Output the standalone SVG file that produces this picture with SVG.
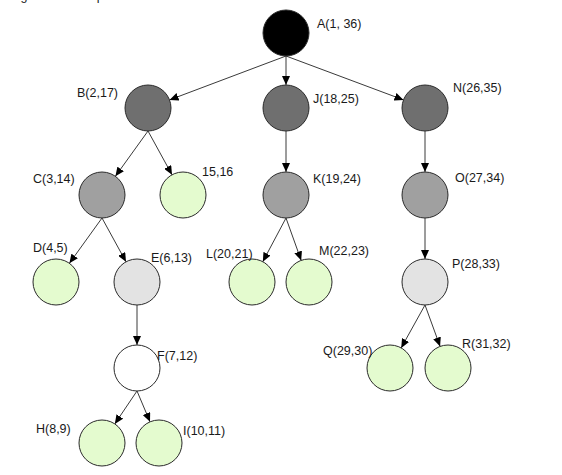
<svg xmlns="http://www.w3.org/2000/svg" width="562" height="475" viewBox="0 0 562 475">
<style>
text{font-family:"Liberation Sans",Arial,sans-serif;font-size:12.5px;fill:#1a1a1a}
.n{stroke:#2a2a2a;stroke-width:1}
.lvl0{fill:#000}
.lvl1{fill:#6f6f6f}
.lvl2{fill:#a0a0a0}
.lvl3{fill:#e3e3e3}
.leaf{fill:#e4fbcf}
.white{fill:#fff}
.e{stroke:#3a3a3a;stroke-width:1;fill:none;marker-end:url(#ah)}
</style>
<defs>
<marker id="ah" markerUnits="userSpaceOnUse" markerWidth="10" markerHeight="8" refX="9" refY="4" orient="auto">
<path d="M0,0 L9,4 L0,8 z" fill="#000"/>
</marker>
</defs>
<rect width="562" height="475" fill="#fff"/>
<text x="10" y="0">Figure 3 : example</text>
<g id="connectors">
<line class="e" x1="286" y1="56" x2="169.5" y2="99.9"/>
<line class="e" x1="286" y1="56" x2="286" y2="85"/>
<line class="e" x1="286" y1="56" x2="403.5" y2="99.9"/>
<line class="e" x1="148" y1="131" x2="115.4" y2="176.3"/>
<line class="e" x1="148" y1="131" x2="172" y2="174.8"/>
<line class="e" x1="286" y1="131" x2="286" y2="172"/>
<line class="e" x1="425" y1="131" x2="425" y2="172"/>
<line class="e" x1="102" y1="218" x2="69.4" y2="263.3"/>
<line class="e" x1="102" y1="218" x2="126" y2="261.8"/>
<line class="e" x1="286" y1="218" x2="262.8" y2="261.7"/>
<line class="e" x1="286" y1="218" x2="301.2" y2="260.4"/>
<line class="e" x1="425" y1="218" x2="425" y2="259"/>
<line class="e" x1="137" y1="305" x2="137" y2="345"/>
<line class="e" x1="425" y1="305" x2="401.2" y2="347.9"/>
<line class="e" x1="425" y1="305" x2="440.1" y2="346.4"/>
<line class="e" x1="137" y1="391" x2="114.8" y2="423.9"/>
<line class="e" x1="137" y1="391" x2="150" y2="421.8"/>
</g>
<g id="A"><circle class="n lvl0" cx="286" cy="33" r="23"/><text x="317" y="28">A(1, 36)</text></g>
<g id="B"><circle class="n lvl1" cx="148" cy="108" r="23"/><text x="77" y="97">B(2,17)</text></g>
<g id="J"><circle class="n lvl1" cx="286" cy="108" r="23"/><text x="313" y="103">J(18,25)</text></g>
<g id="N"><circle class="n lvl1" cx="425" cy="108" r="23"/><text x="453" y="92">N(26,35)</text></g>
<g id="C"><circle class="n lvl2" cx="102" cy="195" r="23"/><text x="33" y="183">C(3,14)</text></g>
<g id="G"><circle class="n leaf" cx="183" cy="195" r="23"/><text x="202" y="176">15,16</text></g>
<g id="K"><circle class="n lvl2" cx="286" cy="195" r="23"/><text x="313" y="183">K(19,24)</text></g>
<g id="O"><circle class="n lvl2" cx="425" cy="195" r="23"/><text x="455" y="182">O(27,34)</text></g>
<g id="D"><circle class="n leaf" cx="56" cy="282" r="23"/><text x="33" y="252">D(4,5)</text></g>
<g id="E"><circle class="n lvl3" cx="137" cy="282" r="23"/><text x="151" y="262">E(6,13)</text></g>
<g id="L"><circle class="n leaf" cx="252" cy="282" r="23"/><text x="206" y="258">L(20,21)</text></g>
<g id="M"><circle class="n leaf" cx="309" cy="282" r="23"/><text x="319" y="255">M(22,23)</text></g>
<g id="P"><circle class="n lvl3" cx="425" cy="282" r="23"/><text x="452" y="268">P(28,33)</text></g>
<g id="F"><circle class="n white" cx="137" cy="368" r="23"/><text x="157" y="360">F(7,12)</text></g>
<g id="Q"><circle class="n leaf" cx="390" cy="368" r="23"/><text x="323" y="355">Q(29,30)</text></g>
<g id="R"><circle class="n leaf" cx="448" cy="368" r="23"/><text x="462" y="348">R(31,32)</text></g>
<g id="H"><circle class="n leaf" cx="102" cy="443" r="23"/><text x="36" y="433">H(8,9)</text></g>
<g id="I"><circle class="n leaf" cx="159" cy="443" r="23"/><text x="183" y="435">I(10,11)</text></g>
</svg>
